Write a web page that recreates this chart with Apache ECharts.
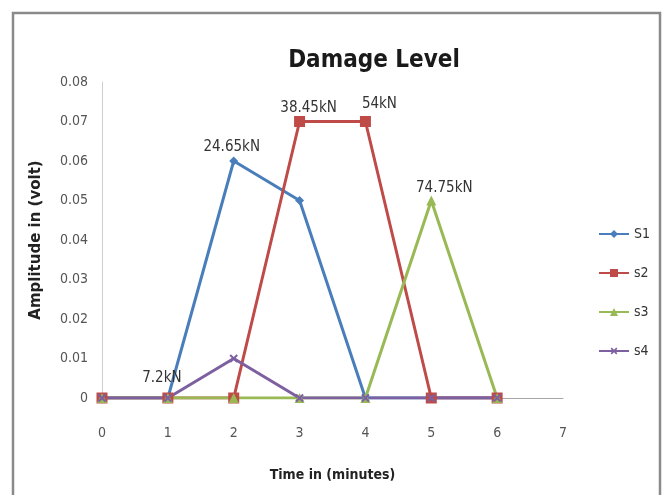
<!DOCTYPE html>
<html>
<head>
<meta charset="utf-8">
<script src="https://cdn.jsdelivr.net/npm/echarts@6/dist/echarts.min.js"></script>
<style>
  html, body { margin: 0; padding: 0; background: #fff; }
  #main { width: 665px; height: 495px; }
</style>
</head>
<body>
<div id="main"></div>
<script>
// data
const timeMinutes = [0, 1, 2, 3, 4, 5, 6];
const s1Values = [0, 0, 0.06, 0.05, 0, 0, 0];
const s2Values = [0, 0, 0, 0.07, 0.07, 0, 0];
const s3Values = [0, 0, 0, 0, 0, 0.05, 0];
const s4Values = [0, 0, 0.01, 0, 0, 0, 0];
const s1Labels = ['', '', '24.65kN', '', '', '', ''];
const s2Labels = ['', '', '', '38.45kN', '54kN', '', ''];
const s3Labels = ['', '', '', '', '', '74.75kN', ''];
const s4Labels = ['', '7.2kN', '', '', '', '', ''];
const yTicks = [0, 0.01, 0.02, 0.03, 0.04, 0.05, 0.06, 0.07, 0.08];

const narrow = '"DejaVu Sans Condensed", Roboto, sans-serif';
// where each label sits next to its point
const labelShift = {
  '24.65kN': [-2, 0],
  '38.45kN': [9, 2],
  '54kN': [14, -2],
  '74.75kN': [13, 2],
  '7.2kN': [-6, -3]
};

function buildData(values, labels) {
  return values.map((v, i) => {
    const item = { value: [timeMinutes[i], v] };
    if (labels[i]) {
      item.label = {
        show: true,
        formatter: labels[i],
        position: 'top',
        distance: 2,
        offset: labelShift[labels[i]] || [0, 0]
      };
    }
    return item;
  });
}

const myChart = echarts.init(document.getElementById('main'));
const plus = 'path://M4,0H6V4H10V6H6V10H4V6H0V4H4Z';

myChart.setOption({
  animation: false,
  title: {
    text: 'Damage Level',
    left: 369,
    textAlign: 'center',
    top: 44,
    textStyle: { fontFamily: narrow, fontSize: 24, fontWeight: 'bold', color: '#1a1a1a' }
  },
  graphic: [{
    type: 'rect',
    shape: { x: 13, y: 13, width: 647, height: 500 },
    style: { fill: 'none', stroke: '#8a8a8a', lineWidth: 2.5 },
    silent: true
  }],
  legend: {
    orient: 'vertical',
    left: 593,
    top: 222,
    itemWidth: 30,
    itemHeight: 10,
    itemGap: 25,
    textStyle: { fontFamily: narrow, fontSize: 14, color: '#333' },
    data: ['S1', 's2', 's3', 's4']
  },
  grid: { left: 102, right: 102, top: 82, bottom: 97 },
  xAxis: {
    type: 'value',
    min: 0,
    max: 7,
    interval: 1,
    name: 'Time in (minutes)',
    nameLocation: 'middle',
    nameGap: 70,
    nameTextStyle: { fontFamily: narrow, fontSize: 14, fontWeight: 'bold', color: '#222' },
    axisLine: { lineStyle: { color: '#a6a6a6', width: 1 } },
    axisTick: { show: false },
    axisLabel: { margin: 28, fontFamily: narrow, fontSize: 14, color: '#555' },
    splitLine: { show: false }
  },
  yAxis: {
    type: 'value',
    min: yTicks[0],
    max: yTicks[yTicks.length - 1],
    interval: 0.01,
    name: 'Amplitude in (volt)',
    nameLocation: 'middle',
    nameGap: 58,
    nameTextStyle: { fontFamily: 'DejaVu Sans', fontSize: 15, fontWeight: 'bold', color: '#222' },
    axisLine: { show: true, lineStyle: { color: '#cfcfcf', width: 1 } },
    axisTick: { show: false },
    axisLabel: {
      margin: 14,
      fontFamily: narrow,
      fontSize: 14,
      color: '#555',
      formatter: v => (v === 0 ? '0' : v.toFixed(2))
    },
    splitLine: { show: false }
  },
  textStyle: { fontFamily: narrow },
  series: [{
    name: 'S1',
    type: 'line',
    data: buildData(s1Values, s1Labels),
    symbol: 'diamond',
    symbolSize: 9,
    color: '#4A7EBB',
    lineStyle: { width: 3 },
    label: { fontFamily: narrow, fontSize: 15, color: '#333' }
  }, {
    name: 's2',
    type: 'line',
    data: buildData(s2Values, s2Labels),
    symbol: 'rect',
    symbolSize: 11,
    color: '#BE4B48',
    lineStyle: { width: 3 },
    label: { fontFamily: narrow, fontSize: 15, color: '#333' }
  }, {
    name: 's3',
    type: 'line',
    data: buildData(s3Values, s3Labels),
    symbol: 'triangle',
    symbolSize: 10,
    color: '#98B954',
    lineStyle: { width: 3 },
    label: { fontFamily: narrow, fontSize: 15, color: '#333' }
  }, {
    name: 's4',
    type: 'line',
    data: buildData(s4Values, s4Labels),
    symbol: plus,
    symbolRotate: 45,
    symbolSize: 10,
    color: '#7D60A0',
    lineStyle: { width: 3 },
    label: { fontFamily: narrow, fontSize: 15, color: '#333' }
  }]
});
</script>
</body>
</html>
